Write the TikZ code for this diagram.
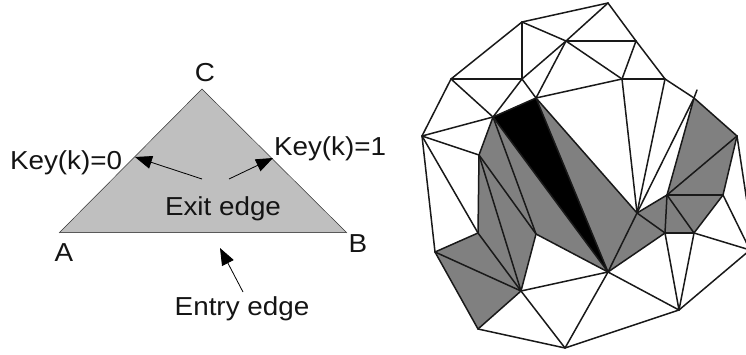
\documentclass[tikz,border=0pt]{standalone}
\usepackage{fontspec}
\setmainfont{Liberation Sans}[FakeStretch=1.07]
\usetikzlibrary{arrows.meta}
\tikzset{
  lbl/.style={inner sep=0pt,outer sep=0pt,font=\fontsize{26}{26}\selectfont,text=black!92},
  meshline/.style={line width=1.5pt,draw=black!90,line cap=round,line join=round},
  greyface/.style={fill=black!50,draw=none},
  pointer/.style={line width=0.8pt,draw=black,-{Triangle[length=17pt,width=13pt]}}
}
\begin{document}
\begin{tikzpicture}[x=1pt,y=-1pt]
\useasboundingbox (0,0) rectangle (746,355);
% left triangle
\coordinate (A) at (59,233);
\coordinate (B) at (347,233);
\coordinate (C) at (202,89);
\fill[black!25] (A)--(B)--(C)--cycle;
\draw[line width=0.5pt,draw=black!80] (B)--(C)--(A);
\draw[line width=1pt,draw=black!65] (A)--(B);
\node[lbl,anchor=base] (lC) at (205,82) {C};
\node[lbl,anchor=base] (lA) at (64,261) {A};
\node[lbl,anchor=base] (lB) at (358,252) {B};
\node[lbl,anchor=base west] (k0) at (10,170) {Key(k)=0};
\node[lbl,anchor=base west] (k1) at (274,156) {Key(k)=1};
\node[lbl,anchor=base] (exit) at (223,216) {Exit edge};
\node[lbl,anchor=base] (entry) at (242,315) {Entry edge};
\coordinate (e0s) at (202,179); \coordinate (e0t) at (135,157);
\coordinate (e1s) at (229,179); \coordinate (e1t) at (273,158);
\coordinate (ens) at (243,292); \coordinate (ent) at (220,248);
\draw[pointer] (e0s)--(e0t);
\draw[pointer] (e1s)--(e1t);
\draw[pointer] (ens)--(ent);
% mesh vertices
\foreach \n/\x/\y in {
 top/608/3,a/522/22,b/451/79,c/522/79,d/566/41,e/536/98,f/493/117,g/422/136,h/479/155,
 j/636/41,k/622/79,l/665/79,m/694/98,n/737/136,spike/697/90,
 p/637/213,q/667/195,r/723/195,s/665/233,t/694/233,u/608/272,v/679/310,w/750/250,nn/750/222,
 x/478/329,y/435/252,z/478/233,Aa/521/291,Bb/536/234,bot/565/348}
 {\coordinate (\n) at (\x,\y);}
\begin{scope}
\clip (0,0) rectangle (746,355);
% grey faces
\fill[greyface] (f)--(h)--(z)--(y)--(x)--(Aa)--(Bb)--(u)--(f)--cycle;
\fill[greyface] (e)--(p)--(u)--cycle;
\fill[greyface] (p)--(q)--(s)--(u)--cycle;
\fill[greyface] (q)--(m)--(n)--(r)--(t)--(s)--cycle;
\fill[black] (f)--(e)--(u)--cycle;
% edges
\foreach \s/\t in {
 top/a,a/b,b/g,g/y,y/x,x/bot,bot/v,v/w,
 top/j,j/l,l/m,m/n,m/spike,n/nn,
 a/c,a/d,b/c,b/f,c/d,c/e,c/f,d/e,d/top,d/j,d/k,j/k,k/l,e/f,e/k,
 f/g,g/h,f/h,g/z,h/z,z/y,y/Aa,x/Aa,z/Aa,h/Aa,h/Bb,f/Bb,Aa/Bb,Bb/u,Aa/u,Aa/bot,bot/u,
 e/p,f/u,e/u,
 k/p,l/p,m/p,m/q,n/q,n/r,q/r,p/q,p/s,q/s,q/t,s/t,r/t,r/w,t/w,u/p,u/s,u/v,s/v,t/v}
 {\draw[meshline] (\s)--(\t);}
\end{scope}
\end{tikzpicture}
\end{document}
